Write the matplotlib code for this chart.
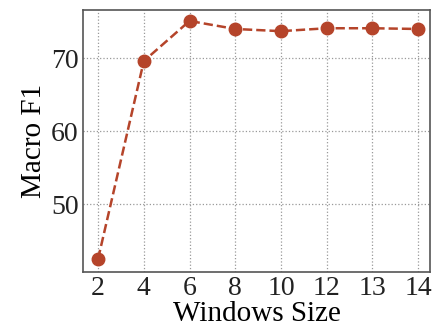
import matplotlib
matplotlib.use("Agg")
import matplotlib.pyplot as plt

window_labels = ["2", "4", "6", "8", "10", "12", "13", "14"]
macro_f1 = [42.5, 69.6, 75.1, 74.0, 73.7, 74.1, 74.1, 74.0]

plt.rcParams['font.family'] = ['Liberation Serif', 'DejaVu Serif']
fig = plt.figure(figsize=(4.33, 3.35), dpi=100)
ax = fig.add_axes([83/433, 1-272/335, (430-83)/433, (272-10)/335])
x = list(range(len(window_labels)))
ax.plot(x, macro_f1, linestyle='--', color='#b5442a', marker='o', markersize=9, linewidth=1.8)
ax.set_xticks(x)
ax.set_xticklabels(window_labels)
ax.set_yticks([50, 60, 70])
ax.set_xlim(-0.33, 7.26)
ax.set_ylim(40.7, 76.6)
ax.grid(True, linestyle=':', color='#999999', linewidth=0.9)
ax.tick_params(length=0, labelsize=20, colors='#222222', pad=3)
for s in ax.spines.values():
    s.set_color('#555555')
    s.set_linewidth(1.2)
ax.set_xlabel("Windows Size", fontsize=21, labelpad=0)
ax.set_ylabel("Macro F1", fontsize=21, labelpad=3)
fig.savefig("out.png", dpi=100)
